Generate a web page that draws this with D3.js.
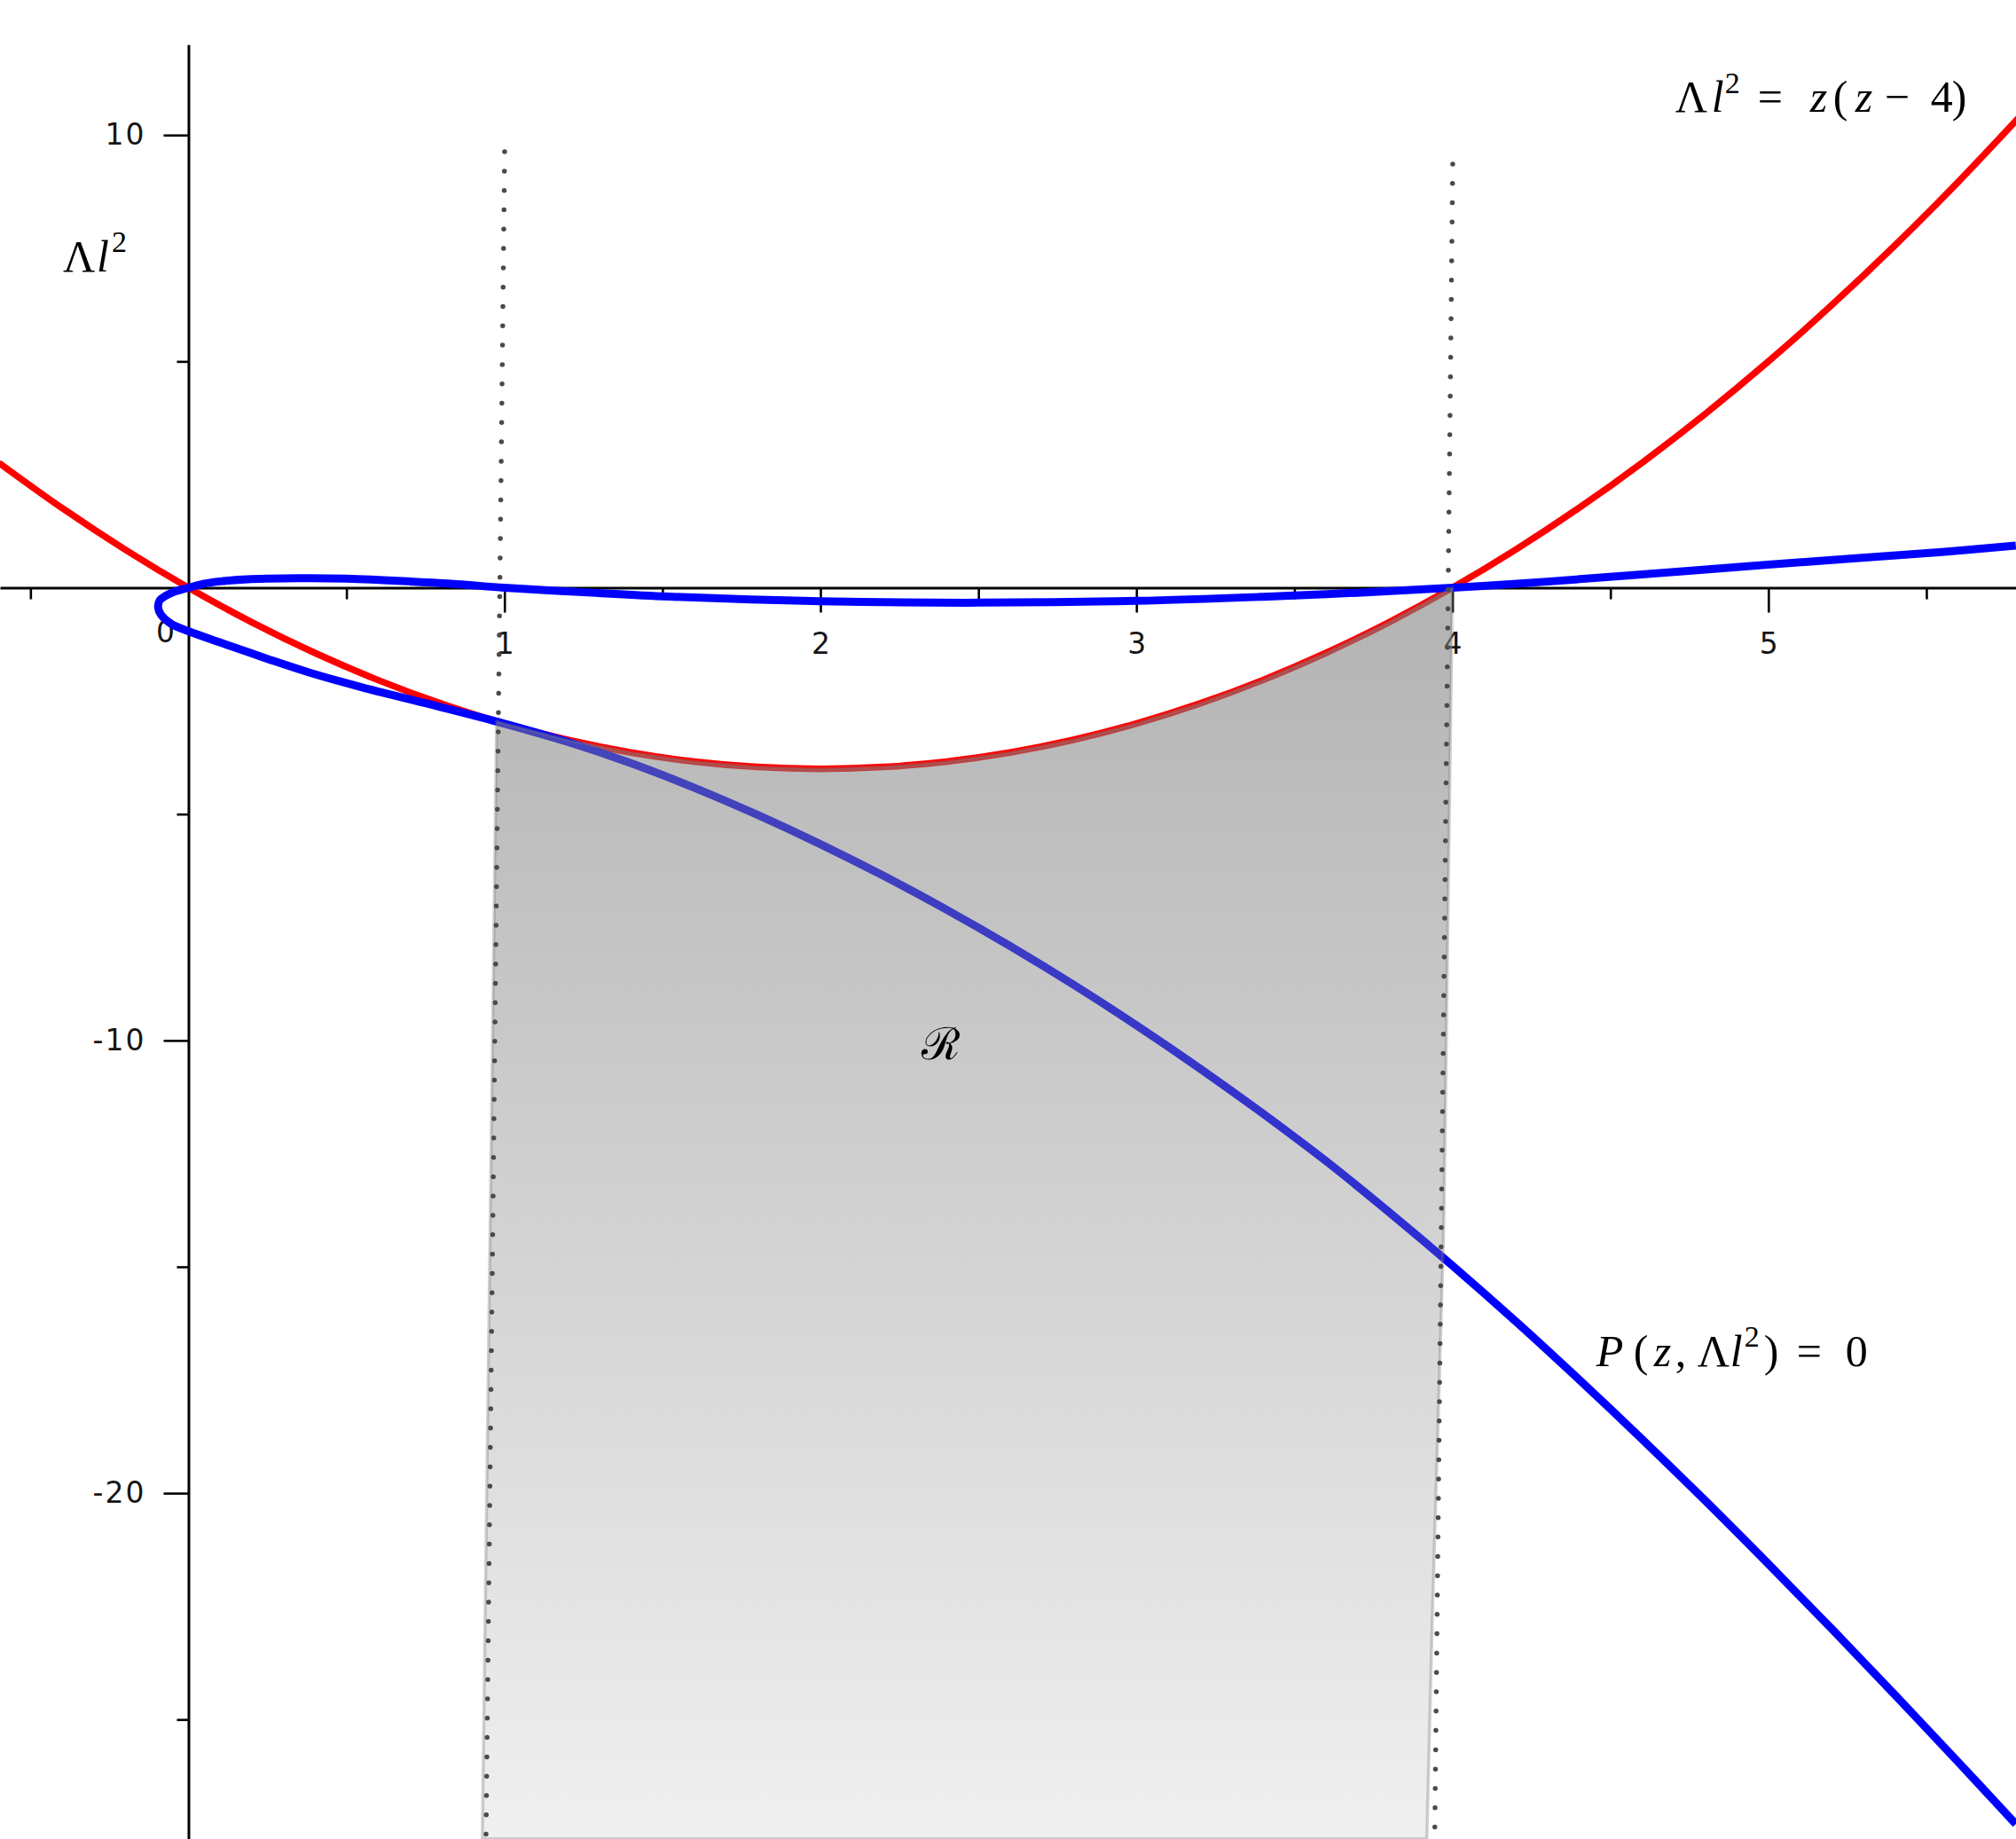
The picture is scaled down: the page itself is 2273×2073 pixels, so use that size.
<!DOCTYPE html>
<html>
<head>
<meta charset="utf-8">
<script src="https://cdn.jsdelivr.net/npm/d3@7"></script>
<style>
  html, body { margin: 0; padding: 0; background: #ffffff; }
  svg { display: block; }
</style>
</head>
<body>
<script>
// ---------------- data ----------------
// red curve  Λl² = z(z − 4)
const redZ = [-0.6,-0.4,-0.2,0,0.2,0.4,0.6,0.8,1.0,1.2,1.4,1.6,1.8,2.0,2.2,2.4,2.6,2.8,3.0,3.2,3.4,3.6,3.8,4.0,4.2,4.4,4.6,4.8,5.0,5.2,5.4,5.6,5.8];
const redL = [2.76,1.76,0.84,0,-0.76,-1.44,-2.04,-2.56,-3.0,-3.36,-3.64,-3.84,-3.96,-4.0,-3.96,-3.84,-3.64,-3.36,-3.0,-2.56,-2.04,-1.44,-0.76,0,0.84,1.76,2.76,3.84,5.0,6.24,7.56,8.96,10.44];

// blue curve  P(z, Λl²) = 0  (traced from the upper-right end, through the loop at the origin, to the lower-right end)
const blueZ = [5.783,5.55,5.135,4.72,4.3,4.0,3.7,3.4,3.0,2.5,2.0,1.5,1.25,1.0,0.85,0.7,0.5,0.35,0.2,0.1,0.05,0,
               -0.054,-0.091,-0.096,-0.086,-0.054,0.0,
               0.105,0.25,0.386,0.55,0.75,0.975,1.2,1.4,1.6,1.8,2.0,2.2,2.4,2.6,2.8,3.0,3.2,3.4,3.6,3.8,4.0,4.2,4.4,4.6,4.8,5.0,5.2,5.4,5.6,5.783];
const blueL = [0.93,0.79,0.58,0.36,0.135,0.0,-0.11,-0.2,-0.29,-0.33,-0.3,-0.19,-0.1,0.0,0.08,0.14,0.2,0.21,0.19,0.14,0.09,0,
               -0.114,-0.278,-0.441,-0.604,-0.80,-0.96,
               -1.22,-1.57,-1.88,-2.2,-2.55,-2.955,-3.405,-3.875,-4.415,-5.015,-5.665,-6.365,-7.115,-7.915,-8.765,-9.665,-10.615,-11.615,-12.665,-13.795,-14.975,-16.205,-17.485,-18.805,-20.165,-21.565,-22.995,-24.455,-25.935,-27.31];

// shaded region R : left and right edges (its top follows the red curve)
const regionLeftZ  = [0.975, 0.93];
const regionLeftL  = [-2.95, -27.64];
const regionRightZ = [4.0, 3.973, 3.936, 3.919];
const regionRightL = [0.0, -14.06, -22.88, -27.64];

// dotted vertical guides
const guideLeftZ  = [1.0006, 0.9416];
const guideLeftL  = [9.63, -27.64];
const guideRightZ = [4.001, 3.944];
const guideRightL = [9.36, -27.64];

// axis ticks
const xMajorTicks = [1, 2, 3, 4, 5];
const xMinorTicks = [-0.5, 0.5, 1.5, 2.5, 3.5, 4.5, 5.5];
const yMajorTicks = [10, -10, -20];
const yMinorTicks = [5, -5, -15, -25];
const yTickLabels = ["10", "-10", "-20"];

// ---------------- drawing ----------------
(function () {
const W = 2273, H = 2073;
const x = d3.scaleLinear().domain([-0.5964, 5.7836]).range([0, W]);
const y = d3.scaleLinear().domain([12.983, -27.64]).range([0, H]);

const svg = d3.select("body").append("svg").attr("width", W).attr("height", H)
  .style("overflow", "hidden");

const defs = svg.append("defs");
const grad = defs.append("linearGradient").attr("id", "regionGrad")
  .attr("gradientUnits", "userSpaceOnUse")
  .attr("x1", 0).attr("x2", 0).attr("y1", y(0)).attr("y2", y(-27.64));
grad.append("stop").attr("offset", 0).attr("stop-color", "#808080").attr("stop-opacity", 0.6);
grad.append("stop").attr("offset", 1).attr("stop-color", "#808080").attr("stop-opacity", 0.12);

const zip = (a, b) => a.map((v, i) => [v, b[i]]);

// axes
const axisColor = "#000";
const tickFont = "'DejaVu Sans', Verdana, sans-serif";
const gx = svg.append("g").attr("transform", `translate(0,${y(0)})`);
gx.call(d3.axisBottom(x).tickValues(xMajorTicks).tickSize(28).tickSizeOuter(0).tickFormat(d3.format("d")));
gx.select(".domain").attr("stroke", axisColor).attr("stroke-width", 3);
gx.selectAll(".tick line").attr("stroke", axisColor).attr("stroke-width", 2.6);
gx.selectAll(".tick text").attr("y", 62.5).attr("dy", "0.35em")
  .attr("font-family", tickFont).attr("font-size", 33).attr("fill", "#151515");
gx.append("text").attr("x", x(0) - 26).attr("y", 50).attr("dy", "0.35em")
  .attr("text-anchor", "middle").attr("font-family", tickFont)
  .attr("font-size", 33).attr("fill", "#151515").text("0");

const gxm = svg.append("g").attr("transform", `translate(0,${y(0)})`);
gxm.call(d3.axisBottom(x).tickValues(xMinorTicks).tickSize(13).tickFormat(""));
gxm.select(".domain").remove();
gxm.selectAll(".tick line").attr("stroke", axisColor).attr("stroke-width", 2.6);

const yAx = d3.scaleLinear().domain([12, -27.64]).range([y(12), y(-27.64)]);
const gy = svg.append("g").attr("transform", `translate(${x(0)},0)`);
gy.call(d3.axisLeft(yAx).tickValues(yMajorTicks).tickSize(28).tickSizeOuter(0).tickPadding(20)
  .tickFormat((d, i) => yTickLabels[i]));
gy.select(".domain").attr("stroke", axisColor).attr("stroke-width", 3);
gy.selectAll(".tick line").attr("stroke", axisColor).attr("stroke-width", 2.6);
gy.selectAll(".tick text").attr("font-family", tickFont)
  .attr("font-size", 33).attr("fill", "#151515").attr("letter-spacing", 2);

const gym = svg.append("g").attr("transform", `translate(${x(0)},0)`);
gym.call(d3.axisLeft(yAx).tickValues(yMinorTicks).tickSize(13).tickFormat(""));
gym.select(".domain").remove();
gym.selectAll(".tick line").attr("stroke", axisColor).attr("stroke-width", 2.6);

// curves
const smooth = d3.line().x(d => x(d[0])).y(d => y(d[1])).curve(d3.curveCatmullRom.alpha(0.5));
svg.append("path").datum(zip(redZ, redL)).attr("d", smooth)
  .attr("fill", "none").attr("stroke", "#ff0000").attr("stroke-width", 7.5).attr("stroke-linejoin", "round");
svg.append("path").datum(zip(blueZ, blueL)).attr("d", smooth)
  .attr("fill", "none").attr("stroke", "#0000ff").attr("stroke-width", 9).attr("stroke-linejoin", "round");

// shaded region R (semi-transparent overlay on top of the curves)
const straight = d3.line().x(d => x(d[0])).y(d => y(d[1]));
const topEdge = [[regionLeftZ[0], regionLeftL[0]]].concat(zip(redZ, redL).filter(d => d[0] >= 1.0 && d[0] <= 4.0));
const rightEdge = zip(regionRightZ, regionRightL).slice(1);
const leftEdge = zip(regionLeftZ, regionLeftL).slice(1).reverse();
const poly = topEdge.concat(rightEdge, leftEdge);
svg.append("path")
  .attr("d", straight(poly) + "Z")
  .attr("fill", "url(#regionGrad)")
  .attr("stroke", "rgba(120,120,120,0.35)").attr("stroke-width", 3.5).attr("stroke-linejoin", "round");

// dotted guides
[[guideLeftZ, guideLeftL], [guideRightZ, guideRightL]].forEach(([zs, ls]) => {
  svg.append("path").datum(zip(zs, ls)).attr("d", straight)
    .attr("fill", "none").attr("stroke", "#4a4a4a").attr("stroke-width", 5.5)
    .attr("stroke-linecap", "round").attr("stroke-dasharray", "0 21.8");
});

// math labels: each glyph placed at its offset (px) from the label start
const mathFont = "'Liberation Serif', 'DejaVu Serif', serif";
function mathLabel(px, py, parts, size) {
  const t = svg.append("text").attr("font-family", mathFont).attr("font-size", size).attr("fill", "#000");
  parts.forEach(p => {
    const ts = t.append("tspan").text(p.t)
      .attr("x", px + p.o)
      .attr("y", p.s ? py - 0.43 * size : py);
    if (p.i) ts.attr("font-style", "italic");
    if (p.s) ts.attr("font-size", size * 0.68);
  });
  return t;
}

mathLabel(x(-0.397), y(6.99), [
  {t: "Λ", o: 0}, {t: "l", o: 38, i: true}, {t: "2", o: 55, s: true}], 50);

mathLabel(x(4.705), y(10.51), [
  {t: "Λ", o: 0}, {t: "l", o: 41, i: true}, {t: "2", o: 56, s: true},
  {t: "=", o: 93}, {t: "z", o: 152, i: true}, {t: "(", o: 178}, {t: "z", o: 203, i: true},
  {t: "−", o: 236}, {t: "4", o: 288}, {t: ")", o: 312}], 50);

mathLabel(x(4.461), y(-17.19), [
  {t: "P", o: -2, i: true}, {t: "(", o: 40}, {t: "z", o: 63, i: true}, {t: ",", o: 87},
  {t: "Λ", o: 112}, {t: "l", o: 149, i: true}, {t: "2", o: 165, s: true}, {t: ")", o: 187},
  {t: "=", o: 224}, {t: "0", o: 279}], 50);

svg.append("text").attr("x", x(2.381)).attr("y", y(-10.08)).attr("dy", "0.35em")
  .attr("text-anchor", "middle").attr("font-family", "'DejaVu Serif', serif")
  .attr("font-size", 50).attr("fill", "#000").text("ℛ");
})();
</script>
</body>
</html>
